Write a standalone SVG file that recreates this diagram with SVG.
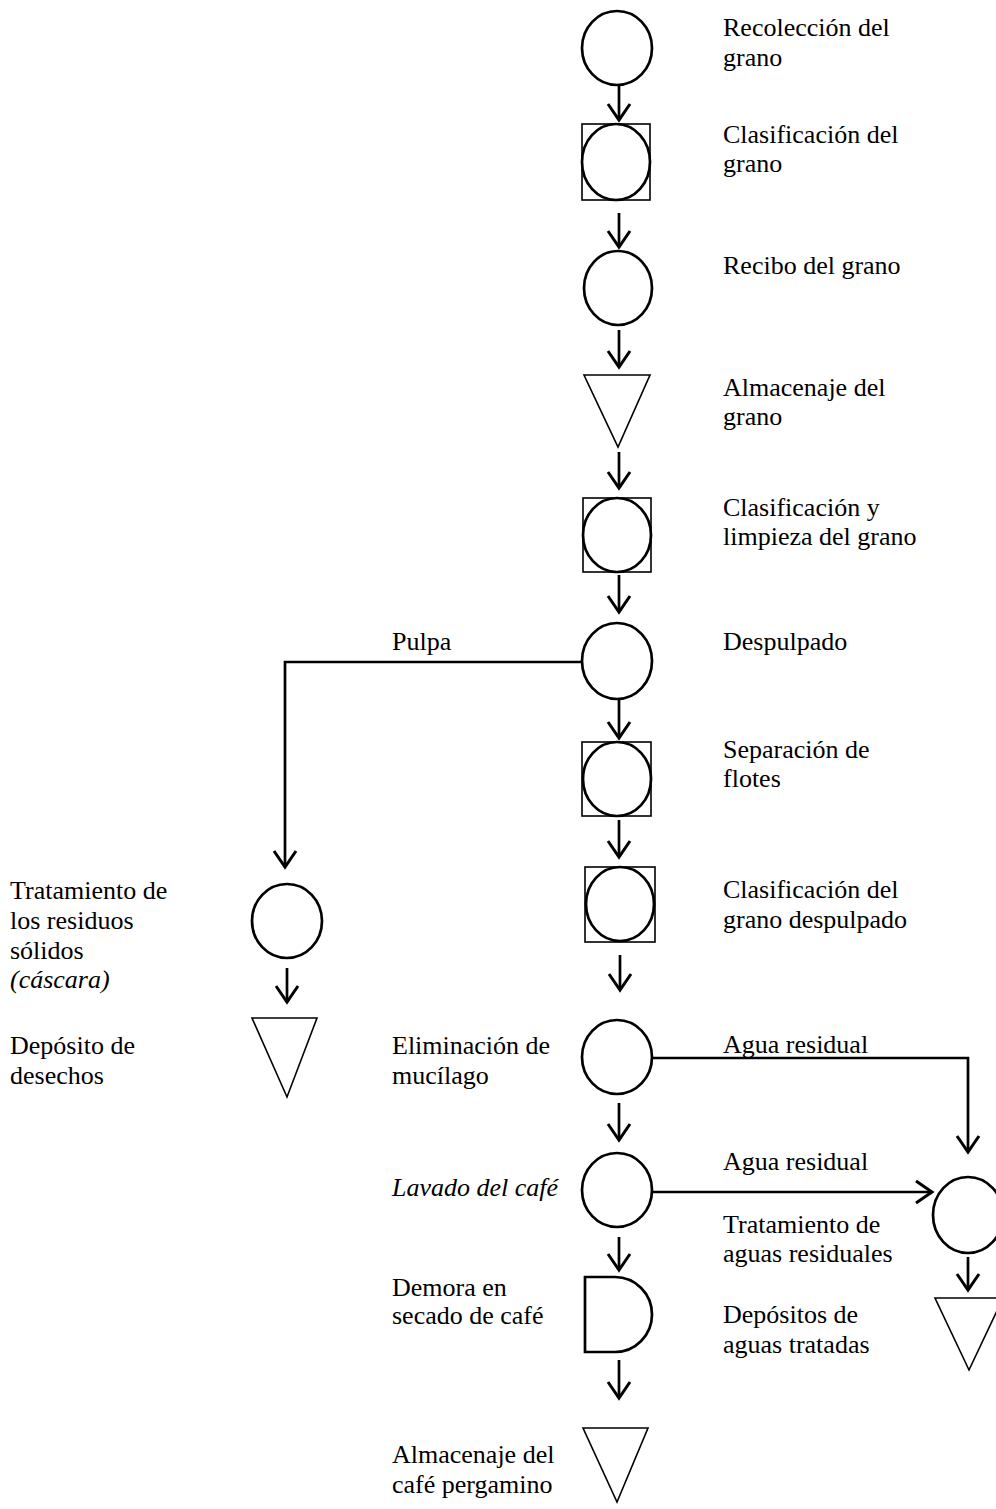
<svg xmlns="http://www.w3.org/2000/svg" width="996" height="1509" viewBox="0 0 996 1509">
<style>
text{font-family:"Liberation Serif","Times New Roman",serif;font-size:26px;fill:#000}
.it{font-style:italic}
.op{fill:#fff;stroke:#000;stroke-width:2.7}
.sq{fill:none;stroke:#000;stroke-width:1.6}
.tri{fill:#fff;stroke:#000;stroke-width:1.6}
.ar{fill:none;stroke:#000;stroke-width:2.7;marker-end:url(#ah)}
</style>
<defs>
<marker id="ah" markerUnits="userSpaceOnUse" viewBox="-19 -14 22 28" refX="0" refY="0" markerWidth="22" markerHeight="28" orient="auto">
<path d="M-16,-11 L0,0 L-16,11" fill="none" stroke="#000" stroke-width="3"/>
</marker>
</defs>
<rect width="996" height="1509" fill="#fff"/>
<g id="connectors">
<line class="ar" x1="619" y1="85" x2="619" y2="120"/>
<line class="ar" x1="619" y1="213" x2="619" y2="247"/>
<line class="ar" x1="619" y1="330" x2="619" y2="367"/>
<line class="ar" x1="619" y1="452" x2="619" y2="488"/>
<line class="ar" x1="619" y1="575" x2="619" y2="612"/>
<line class="ar" x1="619" y1="699" x2="619" y2="738"/>
<line class="ar" x1="619" y1="820" x2="619" y2="857"/>
<line class="ar" x1="620" y1="955" x2="620" y2="990"/>
<line class="ar" x1="619" y1="1103" x2="619" y2="1140"/>
<line class="ar" x1="619" y1="1237" x2="619" y2="1270"/>
<line class="ar" x1="619" y1="1360" x2="619" y2="1398"/>
<polyline class="ar" points="582,662 285,662 285,867"/>
<line class="ar" x1="287" y1="968" x2="287" y2="1002"/>
<polyline class="ar" points="652,1058 968,1058 968,1152"/>
<line class="ar" x1="652" y1="1192" x2="932" y2="1192"/>
<line class="ar" x1="968" y1="1257" x2="968" y2="1290"/>
</g>
<g id="n1"><ellipse class="op" cx="617" cy="48" rx="35" ry="37"/><text x="723" y="36">Recolección del</text><text x="723" y="66">grano</text></g>
<g id="n2"><rect class="sq" x="582" y="124" width="68" height="76"/><ellipse class="op" cx="616" cy="162" rx="34" ry="38"/><text x="723" y="143">Clasificación del</text><text x="723" y="172">grano</text></g>
<g id="n3"><ellipse class="op" cx="618" cy="288" rx="34" ry="37"/><text x="723" y="274">Recibo del grano</text></g>
<g id="n4"><polygon class="tri" points="584,375 650,375 618,447"/><text x="723" y="396">Almacenaje del</text><text x="723" y="425">grano</text></g>
<g id="n5"><rect class="sq" x="583" y="498" width="68" height="74"/><ellipse class="op" cx="617" cy="535" rx="34" ry="37"/><text x="723" y="516">Clasificación y</text><text x="723" y="545">limpieza del grano</text></g>
<g id="n6"><ellipse class="op" cx="617" cy="661" rx="35" ry="38"/><text x="723" y="650">Despulpado</text></g>
<g id="n7"><rect class="sq" x="582" y="742" width="69" height="74"/><ellipse class="op" cx="617" cy="779" rx="34" ry="37"/><text x="723" y="758">Separación de</text><text x="723" y="787">flotes</text></g>
<g id="n8"><rect class="sq" x="585" y="867" width="70" height="75"/><ellipse class="op" cx="620" cy="904" rx="34" ry="37"/><text x="723" y="898">Clasificación del</text><text x="723" y="928">grano despulpado</text></g>
<g id="n9"><ellipse class="op" cx="617" cy="1057" rx="35" ry="37"/><text x="392" y="1054">Eliminación de</text><text x="392" y="1084">mucílago</text></g>
<g id="n10"><ellipse class="op" cx="617" cy="1190" rx="35" ry="37"/><text class="it" x="392" y="1196">Lavado del café</text></g>
<g id="n11"><path class="op" d="M585,1277 H615 A37,37.5 0 0 1 615,1352 H585 Z"/><text x="392" y="1296">Demora en</text><text x="392" y="1324">secado de café</text></g>
<g id="n12"><polygon class="tri" points="583,1428 648,1428 617,1502"/><text x="392" y="1463">Almacenaje del</text><text x="392" y="1493">café pergamino</text></g>
<g id="n13"><ellipse class="op" cx="287" cy="921" rx="35" ry="37"/><text x="10" y="899">Tratamiento de</text><text x="10" y="929">los residuos</text><text x="10" y="959">sólidos</text><text class="it" x="10" y="988">(cáscara)</text></g>
<g id="n14"><polygon class="tri" points="252,1018 317,1018 287,1097"/><text x="10" y="1054">Depósito de</text><text x="10" y="1084">desechos</text></g>
<g id="n15"><ellipse class="op" cx="968" cy="1215" rx="35" ry="38"/><text x="723" y="1233">Tratamiento de</text><text x="723" y="1262">aguas residuales</text></g>
<g id="n16"><polygon class="tri" points="935,1298 1003,1298 969,1370"/><text x="723" y="1323">Depósitos de</text><text x="723" y="1353">aguas tratadas</text></g>
<g id="labels"><text x="392" y="650">Pulpa</text><text x="723" y="1053">Agua residual</text><text x="723" y="1170">Agua residual</text></g>
</svg>
